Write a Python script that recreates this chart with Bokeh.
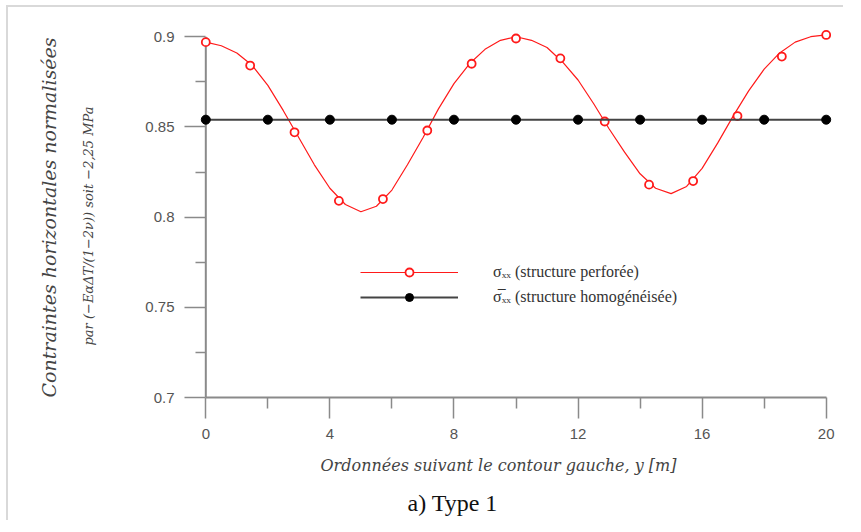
from bokeh.plotting import figure
from bokeh.models import Legend, LegendItem, FixedTicker, Range1d, Title
from bokeh.embed import file_html
from bokeh.resources import INLINE

# ---- data ----
curve_y_pos = [0, 0.5, 1.0, 1.5, 2.0, 2.5, 3.0, 3.5, 4.0, 4.5, 5.0, 5.5, 6.0, 6.5, 7.0,
               7.5, 8.0, 8.5, 9.0, 9.5, 10.0, 10.5, 11.0, 11.5, 12.0, 12.5, 13.0, 13.5,
               14.0, 14.5, 15.0, 15.5, 16.0, 16.5, 17.0, 17.5, 18.0, 18.5, 19.0, 19.5, 20.0]
curve_sigma = [0.897, 0.895, 0.891, 0.884, 0.873, 0.859, 0.844, 0.829, 0.816, 0.807, 0.803,
               0.806, 0.815, 0.829, 0.844, 0.860, 0.874, 0.885, 0.893, 0.898, 0.900, 0.898,
               0.894, 0.886, 0.876, 0.863, 0.849, 0.836, 0.824, 0.816, 0.813, 0.817, 0.827,
               0.841, 0.856, 0.870, 0.882, 0.891, 0.897, 0.900, 0.901]

perf_y_pos = [0, 1.43, 2.86, 4.29, 5.71, 7.14, 8.57, 10.0, 11.43, 12.86, 14.29, 15.71, 17.14, 18.57, 20]
perf_sigma = [0.897, 0.884, 0.847, 0.809, 0.810, 0.848, 0.885, 0.899, 0.888, 0.853, 0.818,
              0.820, 0.856, 0.889, 0.901]

homog_y_pos = [0, 2, 4, 6, 8, 10, 12, 14, 16, 18, 20]
homog_sigma = [0.854, 0.854, 0.854, 0.854, 0.854, 0.854, 0.854, 0.854, 0.854, 0.854, 0.854]

x_major_ticks = [0, 4, 8, 12, 16, 20]
x_minor_ticks = [2, 6, 10, 14, 18]
y_major_ticks = [0.7, 0.75, 0.8, 0.85, 0.9]
y_minor_ticks = [0.725, 0.775, 0.825, 0.875]
y_tick_labels = ["0.7", "0.75", "0.8", "0.85", "0.9"]

legend_labels = ["σₓₓ (structure perforée)", "σ̅ₓₓ (structure homogénéisée)"]
y_title_1 = "Contraintes horizontales normalisées"
y_title_2 = "par (−EαΔT/(1−2ν)) soit  −2,25 MPa"
x_title = "Ordonnées suivant le contour gauche, y  [m]"
caption = "a) Type 1"

# ---- figure ----
p = figure(width=837, height=515, output_backend="svg", toolbar_location=None,
           x_range=Range1d(-0.3, 20.3), y_range=Range1d(0.7, 0.904),
           min_border_left=188, min_border_right=10, min_border_top=22, min_border_bottom=125)
p.outline_line_color = None
p.grid.visible = False
p.background_fill_color = "white"
p.border_fill_color = "white"
p.styles = {"margin-left": "6px", "margin-top": "5px",
            "border-left": "2px solid #d9d9d9", "border-top": "2px solid #d9d9d9",
            "border-right": "none", "border-bottom": "none"}

axis_gray = "#8a8a8a"
for ax in (p.xaxis[0], p.yaxis[0]):
    ax.axis_line_color = axis_gray
    ax.axis_line_width = 2
    ax.major_tick_line_color = axis_gray
    ax.major_tick_line_width = 1.5
    ax.minor_tick_line_color = axis_gray
    ax.minor_tick_line_width = 1.5
    ax.major_label_text_font = "Liberation Sans"
    ax.major_label_text_font_size = "15px"
    ax.major_label_text_color = "#555555"

# x axis: sits on the frame bottom (y = 0.7)
p.xaxis.ticker = FixedTicker(ticks=x_major_ticks, minor_ticks=x_minor_ticks)
p.xaxis.bounds = (x_major_ticks[0], x_major_ticks[-1])
p.xaxis.major_tick_in = 0
p.xaxis.minor_tick_in = 0
p.xaxis.major_tick_out = 21
p.xaxis.minor_tick_out = 11
p.xaxis.major_label_standoff = 10

# y axis: drawn at the frame edge, ticks reach in to the x = 0 line
p.yaxis.ticker = FixedTicker(ticks=y_major_ticks, minor_ticks=y_minor_ticks)
p.yaxis.axis_line_color = None
p.yaxis.major_tick_in = 9
p.yaxis.minor_tick_in = 9
p.yaxis.major_tick_out = 12
p.yaxis.minor_tick_out = 1
p.yaxis.major_label_standoff = 10
p.yaxis.major_label_overrides = {t: s for t, s in zip(y_major_ticks, y_tick_labels)}

# y axis line at x = 0
p.segment(x0=[x_major_ticks[0]], y0=[y_major_ticks[0]], x1=[x_major_ticks[0]],
          y1=[y_major_ticks[-1]], line_color=axis_gray, line_width=2)

# ---- series ----
red_line = p.line(curve_y_pos, curve_sigma, line_color="#ff1a1a", line_width=1.2)
red_pts = p.scatter(perf_y_pos, perf_sigma, marker="circle", size=8, line_color="#ff1a1a",
                    line_width=1.8, fill_color="white")
blk_line = p.line(homog_y_pos, homog_sigma, line_color="#444444", line_width=2)
blk_pts = p.scatter(homog_y_pos, homog_sigma, marker="circle", size=9, line_color="black",
                    fill_color="black")

legend = Legend(items=[LegendItem(label=legend_labels[0], renderers=[red_line, red_pts]),
                       LegendItem(label=legend_labels[1], renderers=[blk_line, blk_pts])],
                location=(164, 90), padding=0, margin=0, spacing=5,
                glyph_width=98, glyph_height=20, label_standoff=35,
                label_text_font="Liberation Serif", label_text_font_size="16px",
                label_text_color="#333333", border_line_alpha=0, background_fill_alpha=0)
p.add_layout(legend)

# ---- titles ----
ital = dict(text_font="DejaVu Serif", text_font_style="italic", text_color="#444444")
t_y2 = Title(text=y_title_2, align="left", offset=52, standoff=94, text_font_size="13px", **ital)
t_y1 = Title(text=y_title_1, align="left", offset=0, standoff=-56, text_font_size="19px", **ital)
p.add_layout(t_y2, "left")
p.add_layout(t_y1, "left")

t_x = Title(text=x_title, align="left", offset=124, standoff=25, text_font_size="16px", **ital)
t_cap = Title(text=caption, align="left", offset=211, standoff=1, text_font="Liberation Serif",
              text_font_size="24px", text_font_style="normal", text_color="#111111")
p.add_layout(t_x, "below")
p.add_layout(t_cap, "below")

open("out.html", "w").write(file_html(p, INLINE))
